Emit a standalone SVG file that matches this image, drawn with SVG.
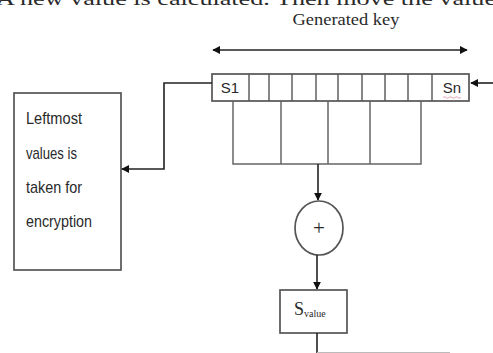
<svg xmlns="http://www.w3.org/2000/svg" width="493" height="353" viewBox="0 0 493 353">
  <style>
    .box { fill: #fff; stroke: #555; stroke-width: 1.7; }
    .cell { fill: none; stroke: #555; stroke-width: 1.4; }
    .wire { fill: none; stroke: #222; stroke-width: 1.6; }
    .brk { fill: none; stroke: #666; stroke-width: 1.5; }
    .serif { font-family: "Liberation Serif", "Times New Roman", serif; fill: #2a2a2a; }
    .sans { font-family: "Liberation Sans", Arial, sans-serif; fill: #2a2a2a; }
    .note { font-size: 17px; }
  </style>
  <defs>
    <marker id="arrow" viewBox="0 0 10 10" refX="9" refY="5" markerWidth="5" markerHeight="5" orient="auto-start-reverse" markerUnits="strokeWidth">
      <path d="M0,0 L10,5 L0,10 z" fill="#111"/>
    </marker>
  </defs>
  <rect width="493" height="353" fill="#fff"/>

  <!-- running text from the page above, cut at the top edge -->
  <text class="serif" x="-4" y="5" font-size="19" textLength="500" lengthAdjust="spacingAndGlyphs" fill="#111">A new value is calculated. Then move the value</text>

  <g id="generated-key">
    <text class="serif" x="346" y="25" font-size="17" text-anchor="middle" textLength="107" lengthAdjust="spacingAndGlyphs">Generated key</text>
  </g>

  <g id="key-register">
    <rect class="box" x="212" y="74" width="257" height="27"/>
    <path class="cell" d="M249,74V101 M269,74V101 M292,74V101 M316,74V101 M338,74V101 M362,74V101 M385,74V101 M408,74V101 M432,74V101"/>
    <text class="sans" x="230" y="93" font-size="15" text-anchor="middle">S1</text>
    <text class="sans" x="452" y="93" font-size="15" text-anchor="middle">Sn</text>
    <path d="M443,97.5 q1.5,-1.5 3,0 t3,0 t3,0 t3,0 t3,0 t3,0" fill="none" stroke="#e09aa8" stroke-width="0.9"/>
  </g>

  <g id="tap-bracket">
    <path class="brk" d="M233,101V164H421V101 M281,101V164 M328,101V164 M370,101V164"/>
  </g>

  <g id="xor">
    <ellipse class="box" cx="319" cy="228" rx="24" ry="27"/>
    <text class="serif" x="319" y="235" font-size="21" text-anchor="middle">+</text>
  </g>

  <g id="s-value">
    <rect class="box" x="280" y="290" width="67" height="43"/>
    <text class="serif" x="294" y="315" font-size="18">S<tspan font-size="10" dy="2">value</tspan></text>
  </g>

  <g id="leftmost-box">
    <rect class="box" x="14" y="93" width="107" height="177"/>
    <text class="sans note" x="26" y="124" textLength="56" lengthAdjust="spacingAndGlyphs">Leftmost</text>
    <text class="sans note" x="26" y="159" textLength="51" lengthAdjust="spacingAndGlyphs">values is</text>
    <text class="sans note" x="26" y="193" textLength="56" lengthAdjust="spacingAndGlyphs">taken for</text>
    <text class="sans note" x="26" y="227" textLength="66" lengthAdjust="spacingAndGlyphs">encryption</text>
  </g>

  <g id="connectors">
    <line class="wire" x1="213" y1="50" x2="467" y2="50" marker-start="url(#arrow)" marker-end="url(#arrow)"/>
    <line class="wire" x1="493" y1="83" x2="471" y2="83" marker-end="url(#arrow)"/>
    <polyline class="wire" points="212,83 164,83 164,169 122,169" marker-end="url(#arrow)"/>
    <line class="wire" x1="318" y1="164" x2="318" y2="200" marker-end="url(#arrow)"/>
    <line class="wire" x1="317" y1="255" x2="317" y2="289" marker-end="url(#arrow)"/>
    <line class="wire" x1="317" y1="333" x2="317" y2="353"/>
    <line x1="317" y1="352.5" x2="450" y2="352.5" stroke="#bbb" stroke-width="1"/>
  </g>
</svg>
